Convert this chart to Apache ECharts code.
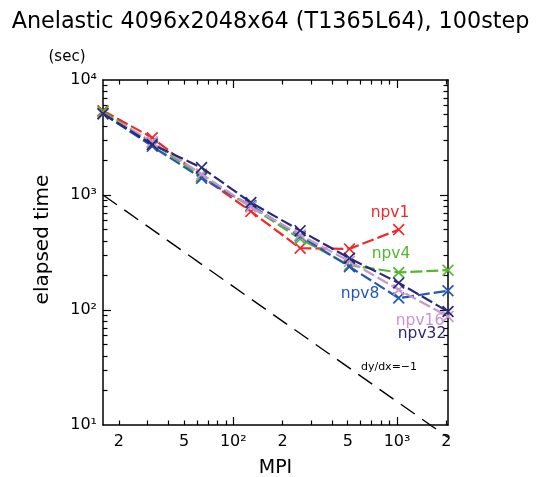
<!DOCTYPE html>
<html>
<head>
<meta charset="utf-8">
<script src="https://cdn.jsdelivr.net/npm/echarts@6/dist/echarts.min.js"></script>
<style>html,body{margin:0;padding:0;background:#fff;}#c{width:541px;height:477px;}</style>
</head>
<body>
<div id="c"></div>
<script>
// ---- data ----
var mpi = [16, 32, 64, 128, 256, 512, 1024, 2048];
var npv1  = [5400, 3150, 1450, 720, 345, 340, 500];
var npv4  = [5300, 2850, 1450, 790, 415, 245, 212, 222];
var npv8  = [5100, 2650, 1400, 810, 440, 238, 127, 147];
var npv16 = [5100, 2900, 1520, 790, 450, 265, 150, 88];
var npv32 = [5100, 2750, 1730, 860, 490, 282, 172, 97];
var refX = [16, 2048];
var refY = [1000, 7.8];
var seriesNames = ['npv1', 'npv4', 'npv8', 'npv16', 'npv32'];
var xLabelValues = [20, 50, 100, 200, 500, 1000, 2000];
var xLabelTexts = ['2', '5', '10\u00b2', '2', '5', '10\u00b3', '2'];
var xMajor = [100, 1000];
var xMinor = [20, 30, 40, 50, 60, 70, 80, 90, 200, 300, 400, 500, 600, 700, 800, 900, 2000];
var yLabelValues = [10, 100, 1000, 10000];
var yLabelTexts = ['10\u00b9', '10\u00b2', '10\u00b3', '10\u2074'];
var yMajor = [100, 1000];
var yMinor = [20, 30, 40, 50, 60, 70, 80, 90, 200, 300, 400, 500, 600, 700, 800, 900,
              2000, 3000, 4000, 5000, 6000, 7000, 8000, 9000];

var colors = ['#f0282a', '#52b830', '#2456b4', '#c896cf', '#282a78'];
var FONT = 'DejaVu Sans';
var cross = 'path://M0,1L1,0L5,4L9,0L10,1L6,5L10,9L9,10L5,6L1,10L0,9L4,5Z';

function lookup(vals, texts) {
  return function (v) {
    var best = 0, bd = Infinity;
    for (var i = 0; i < vals.length; i++) {
      var d = Math.abs(Math.log(v) - Math.log(vals[i]));
      if (d < bd) { bd = d; best = i; }
    }
    return texts[best];
  };
}

function xAxisDef(pos, ticks, len, showLabel, showLine) {
  return {
    type: 'log', logBase: 10, min: 16, max: 2048, position: pos,
    axisLine: { show: showLine, lineStyle: { color: '#000', width: 1.5 } },
    axisTick: { show: true, inside: true, length: len, customValues: ticks,
                lineStyle: { color: '#000', width: 1.2 } },
    axisLabel: showLabel ? { show: true, customValues: xLabelValues,
                formatter: lookup(xLabelValues, xLabelTexts),
                fontFamily: FONT, fontSize: 16, color: '#000', margin: 9 } : { show: false },
    splitLine: { show: false }, minorTick: { show: false }
  };
}
function yAxisDef(pos, ticks, len, showLabel, showLine) {
  return {
    type: 'log', logBase: 10, min: 10, max: 10000, position: pos,
    axisLine: { show: showLine, lineStyle: { color: '#000', width: 1.5 } },
    axisTick: { show: true, inside: true, length: len, customValues: ticks,
                lineStyle: { color: '#000', width: 1.2 } },
    axisLabel: showLabel ? { show: true, customValues: yLabelValues,
                formatter: lookup(yLabelValues, yLabelTexts),
                fontFamily: FONT, fontSize: 16, color: '#000', margin: 6 } : { show: false },
    splitLine: { show: false }, minorTick: { show: false }
  };
}

var xAxes = [
  xAxisDef('bottom', xMinor, 4.5, true, true),
  xAxisDef('bottom', xMajor, 8, false, false),
  xAxisDef('top', xMinor, 4.5, false, true),
  xAxisDef('top', xMajor, 8, false, false)
];
xAxes[0].name = 'MPI';
xAxes[0].nameLocation = 'middle';
xAxes[0].nameGap = 34;
xAxes[0].nameTextStyle = { fontFamily: FONT, fontSize: 19, color: '#000' };

var yAxes = [
  yAxisDef('left', yMinor, 4.5, true, true),
  yAxisDef('left', yMajor, 8, false, false),
  yAxisDef('right', yMinor, 4.5, false, true),
  yAxisDef('right', yMajor, 8, false, false)
];
yAxes[0].name = 'elapsed time';
yAxes[0].nameLocation = 'middle';
yAxes[0].nameGap = 50;
yAxes[0].nameTextStyle = { fontFamily: FONT, fontSize: 20, color: '#000', padding: [0, 0, 0, 26] };

var allData = [npv1, npv4, npv8, npv16, npv32];
var series = allData.map(function (arr, k) {
  return {
    name: seriesNames[k], type: 'line', xAxisIndex: 0, yAxisIndex: 0,
    data: arr.map(function (v, i) { return [mpi[i], v]; }),
    symbol: cross, symbolSize: 12, showSymbol: true, clip: false,
    lineStyle: { color: colors[k], width: 2.2, type: [12, 4] },
    itemStyle: { color: colors[k] },
    z: 3 + k
  };
});
series.unshift({
  name: 'ref', type: 'line', xAxisIndex: 0, yAxisIndex: 0,
  data: refX.map(function (x, i) { return [x, refY[i]]; }),
  showSymbol: false, symbol: 'none', clip: false,
  lineStyle: { color: '#000', width: 1.4, type: [17, 9] }, z: 2
});

var labelStyle = function (text, color, x, y, size) {
  return { type: 'text', x: x, y: y, style: { text: text, fill: color,
    font: size + 'px "' + FONT + '"', textAlign: 'center', textVerticalAlign: 'middle' }, z: 20 };
};

var chart = echarts.init(document.getElementById('c'));
chart.setOption({
  animation: false,
  backgroundColor: '#fff',
  title: { text: 'Anelastic 4096x2048x64 (T1365L64), 100step', left: 'center', top: 6,
           textStyle: { fontFamily: FONT, fontSize: 22.3, fontWeight: 'normal', color: '#000' } },
  grid: { left: 103, right: 93, top: 80, bottom: 52, containLabel: false, outerBoundsMode: 'none' },
  xAxis: xAxes,
  yAxis: yAxes,
  series: series,
  graphic: [
    labelStyle('(sec)', '#000', 67, 57, 15),
    labelStyle('npv1', colors[0], 390, 213, 15.5),
    labelStyle('npv4', colors[1], 391, 254, 15.5),
    labelStyle('npv8', colors[2], 360, 294, 15.5),
    labelStyle('npv16', colors[3], 420, 321, 15.5),
    labelStyle('npv32', colors[4], 422, 334, 15.5),
    labelStyle('dy/dx=\u22121', '#000', 389, 367, 11)
  ]
});
</script>
</body>
</html>
